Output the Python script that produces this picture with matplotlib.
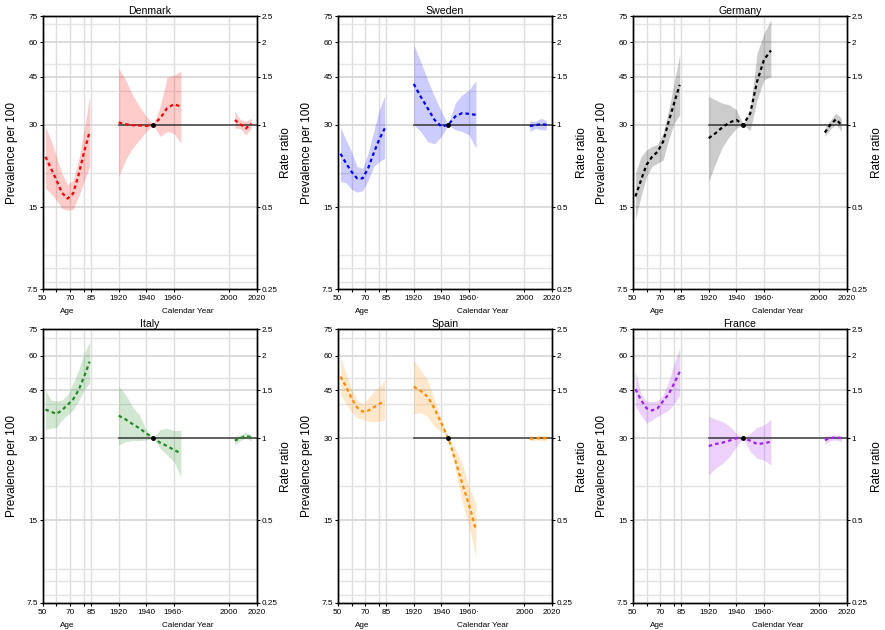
import numpy as np
import matplotlib
matplotlib.use("Agg")
import matplotlib.pyplot as plt
from matplotlib.ticker import NullLocator

plt.rcParams['font.family'] = ['Liberation Sans', 'DejaVu Sans']

# ---- data ----
ages = [52, 56, 60, 64, 68, 72, 76, 80, 84]
cohorts = [1920, 1925, 1930, 1935, 1940, 1945, 1950, 1955, 1960, 1965]
periods = [2004, 2008, 2012, 2016]
ref_cohort = 1945

# Denmark (age: prevalence per 100, cohort/period: rate ratio)
dk_age_est = [22.9, 20.8, 18.8, 16.9, 16.1, 16.8, 19.7, 23.9, 28.3]
dk_age_lo = [17.6, 16.8, 15.9, 14.8, 14.6, 14.7, 16.4, 18.6, 21.1]
dk_age_hi = [29.5, 26.4, 22.9, 19.9, 18.1, 18.8, 22.3, 28.7, 38.1]
dk_coh_est = [1.02, 1.005, 0.996, 0.994, 0.99, 1.0, 1.057, 1.15, 1.19, 1.165]
dk_coh_lo = [0.646, 0.744, 0.821, 0.88, 0.945, 1.0, 0.906, 0.945, 0.93, 0.856]
dk_coh_hi = [1.61, 1.46, 1.287, 1.166, 1.072, 1.0, 1.166, 1.49, 1.52, 1.57]
dk_per_est = [1.04, 1.005, 0.97, 1.01]
dk_per_lo = [0.97, 0.97, 0.918, 0.97]
dk_per_hi = [1.12, 1.047, 1.03, 1.056]

# Sweden
se_age_est = [23.5, 21.7, 20.2, 19.1, 19.1, 20.8, 23.6, 26.5, 29.1]
se_age_lo = [18.6, 18.4, 17.4, 17.0, 17.2, 18.8, 21.1, 22.0, 22.6]
se_age_hi = [29.3, 26.4, 23.9, 21.1, 20.8, 23.6, 28.3, 34.0, 38.3]
se_coh_est = [1.41, 1.268, 1.15, 1.042, 0.985, 1.0, 1.072, 1.103, 1.096, 1.087]
se_coh_lo = [1.0, 0.945, 0.868, 0.851, 0.906, 1.0, 0.958, 0.945, 0.918, 0.821]
se_coh_hi = [1.96, 1.704, 1.46, 1.268, 1.118, 1.0, 1.199, 1.287, 1.342, 1.452]
se_per_est = [0.99, 0.996, 1.005, 1.0]
se_per_lo = [0.945, 0.97, 0.958, 0.958]
se_per_hi = [1.036, 1.028, 1.056, 1.036]

# Germany
de_age_est = [16.4, 18.8, 21.4, 22.9, 23.9, 26.0, 30.8, 36.0, 42.0]
de_age_lo = [13.5, 16.4, 19.4, 21.1, 21.7, 22.3, 26.4, 30.4, 32.6]
de_age_hi = [19.9, 22.9, 24.3, 25.0, 25.4, 27.9, 34.0, 42.6, 54.0]
de_coh_est = [0.893, 0.932, 0.98, 1.019, 1.042, 1.0, 1.10, 1.44, 1.73, 1.87]
de_coh_lo = [0.621, 0.723, 0.832, 0.906, 0.972, 1.0, 0.952, 1.233, 1.46, 1.5]
de_coh_hi = [1.268, 1.233, 1.199, 1.182, 1.134, 1.0, 1.134, 1.83, 2.164, 2.42]
de_per_est = [0.937, 1.0, 1.047, 1.0]
de_per_lo = [0.906, 0.963, 1.008, 0.945]
de_per_hi = [0.97, 1.04, 1.102, 1.056]

# Italy
it_age_est = [38.2, 37.5, 36.8, 38.0, 39.7, 41.6, 45.0, 50.4, 57.2]
it_age_lo = [32.3, 32.6, 32.8, 35.0, 36.5, 38.0, 41.0, 45.0, 47.6]
it_age_hi = [45.0, 41.4, 41.0, 41.4, 43.2, 47.6, 53.3, 61.3, 67.6]
it_coh_est = [1.209, 1.172, 1.127, 1.087, 1.042, 1.0, 0.963, 0.936, 0.906, 0.88]
it_coh_lo = [0.944, 0.971, 0.98, 0.98, 0.985, 1.0, 0.918, 0.868, 0.82, 0.723]
it_coh_hi = [1.55, 1.44, 1.305, 1.216, 1.07, 1.0, 1.078, 1.087, 1.065, 1.07]
it_per_est = [0.98, 1.0, 1.019, 1.007]
it_per_lo = [0.944, 0.98, 1.0, 0.977]
it_per_hi = [1.013, 1.027, 1.053, 1.027]

# Spain
es_age_est = [50.4, 46.3, 42.0, 38.9, 37.5, 37.8, 38.9, 40.0, 41.0]
es_age_lo = [43.2, 40.1, 37.5, 35.5, 35.2, 34.6, 34.4, 34.6, 35.0]
es_age_hi = [59.6, 51.8, 45.6, 41.4, 40.0, 42.0, 44.4, 46.3, 49.0]
es_coh_est = [1.543, 1.49, 1.418, 1.286, 1.133, 1.0, 0.832, 0.684, 0.57, 0.461]
es_coh_lo = [1.226, 1.24, 1.199, 1.102, 1.056, 1.0, 0.776, 0.586, 0.474, 0.368]
es_coh_hi = [1.93, 1.776, 1.632, 1.38, 1.18, 1.0, 0.918, 0.809, 0.665, 0.577]
es_per_est = [0.995, 1.0, 1.0, 1.0]
es_per_lo = [0.975, 0.985, 0.98, 0.98]
es_per_hi = [1.02, 1.015, 1.03, 1.02]

# France
fr_age_est = [45.3, 41.4, 38.6, 37.9, 38.6, 41.0, 43.5, 47.6, 52.5]
fr_age_lo = [39.2, 36.5, 34.0, 35.0, 36.0, 37.0, 38.0, 40.1, 43.2]
fr_age_hi = [53.0, 43.6, 41.0, 40.8, 41.0, 43.2, 48.3, 56.3, 63.9]
fr_coh_est = [0.936, 0.952, 0.963, 0.98, 1.0, 1.0, 0.98, 0.952, 0.958, 0.971]
fr_coh_lo = [0.733, 0.776, 0.809, 0.856, 0.931, 1.0, 0.893, 0.844, 0.832, 0.798]
fr_coh_hi = [1.206, 1.172, 1.149, 1.108, 1.042, 1.0, 1.042, 1.095, 1.117, 1.172]
fr_per_est = [0.985, 1.0, 1.007, 1.0]
fr_per_lo = [0.95, 0.98, 0.985, 0.97]
fr_per_hi = [1.02, 1.02, 1.03, 1.02]

countries = ['Denmark', 'Sweden', 'Germany', 'Italy', 'Spain', 'France']
colors = ['red', 'blue', 'black', 'forestgreen', 'darkorange', '#A020F0']
age_fx = [(dk_age_est, dk_age_lo, dk_age_hi), (se_age_est, se_age_lo, se_age_hi),
          (de_age_est, de_age_lo, de_age_hi), (it_age_est, it_age_lo, it_age_hi),
          (es_age_est, es_age_lo, es_age_hi), (fr_age_est, fr_age_lo, fr_age_hi)]
coh_fx = [(dk_coh_est, dk_coh_lo, dk_coh_hi), (se_coh_est, se_coh_lo, se_coh_hi),
          (de_coh_est, de_coh_lo, de_coh_hi), (it_coh_est, it_coh_lo, it_coh_hi),
          (es_coh_est, es_coh_lo, es_coh_hi), (fr_coh_est, fr_coh_lo, fr_coh_hi)]
per_fx = [(dk_per_est, dk_per_lo, dk_per_hi), (se_per_est, se_per_lo, se_per_hi),
          (de_per_est, de_per_lo, de_per_hi), (it_per_est, it_per_lo, it_per_hi),
          (es_per_est, es_per_lo, es_per_hi), (fr_per_est, fr_per_lo, fr_per_hi)]

prev_ticks = [7.5, 15, 30, 45, 60, 75]
rr_ticks = [0.25, 0.5, 1, 1.5, 2, 2.5]
rr_labels = ['0.25', '0.5', '1', '1.5', '2', '2.5']
hgrid = [8, 9, 10, 20, 40, 50, 70]
hgrid_rr = [15, 30, 45, 60]


# age axis and calendar axis share one x scale with a gap between 85 and 1920
def age_x(a):
    return np.asarray(a, dtype=float) - 50


def year_x(y):
    return np.asarray(y, dtype=float) - 1865


xtick_pos = list(age_x([50, 60, 70, 80, 85])) + list(year_x([1920, 1940, 1960, 2000, 2020]))
xtick_lab = ['50', '', '70', '', '85', '1920', '1940', '1960\u00b7', '2000', '2020']
vgrid = list(age_x([60, 70, 80, 85])) + list(year_x([1920, 1940, 1960, 2000]))

fig = plt.figure(figsize=(8.85, 6.3), dpi=100)
lefts = [0.0482, 0.3816, 0.7149]
bottoms = [0.5408, 0.0433]
W, H = 0.2421, 0.4338
ls = (0, (1.6, 1.4))

for i, name in enumerate(countries):
    col = colors[i]
    ax = fig.add_axes([lefts[i % 3], bottoms[i // 3], W, H])
    ax.set_yscale('log')
    ax.set_xlim(0, 155)
    ax.set_ylim(7.5, 75)
    for g in vgrid:
        ax.axvline(g, color='#dedede', lw=1.0, zorder=0)
    for g in hgrid:
        ax.axhline(g, color='#e4e4e4', lw=1.0, zorder=0)
    for g in hgrid_rr:
        ax.axhline(g, color='#d6d6d6', lw=1.2, zorder=0)

    ax2 = ax.twinx()
    ax2.set_yscale('log')
    ax2.set_ylim(0.25, 2.5)

    # age effect
    est, lo, hi = age_fx[i]
    ax.fill_between(age_x(ages), lo, hi, color=col, alpha=0.2, lw=0)
    ax.plot(age_x(ages), est, color=col, lw=1.6, ls=ls)

    # reference line and point
    ax2.plot([year_x(1920), year_x(2020)], [1, 1], color='#333333', lw=1.2, alpha=0.85)

    # cohort effect
    est, lo, hi = coh_fx[i]
    ax2.fill_between(year_x(cohorts), lo, hi, color=col, alpha=0.2, lw=0)
    ax2.plot(year_x(cohorts), est, color=col, lw=1.6, ls=ls)

    # period effect
    est, lo, hi = per_fx[i]
    ax2.fill_between(year_x(periods), lo, hi, color=col, alpha=0.2, lw=0)
    ax2.plot(year_x(periods), est, color=col, lw=1.6, ls=ls)

    ax2.plot([year_x(ref_cohort)], [1], 'o', color='black', ms=2.5)

    ax.yaxis.set_minor_locator(NullLocator())
    ax2.yaxis.set_minor_locator(NullLocator())
    ax.set_yticks(prev_ticks)
    ax.set_yticklabels(['7.5', '15', '30', '45', '60', '75'])
    ax2.set_yticks(rr_ticks)
    ax2.set_yticklabels(rr_labels)
    ax.set_xticks(xtick_pos)
    ax.set_xticklabels(xtick_lab)
    ax.tick_params(axis='both', labelsize=5.9, length=2.4, width=0.8, pad=1, color='black')
    ax.tick_params(axis='x', pad=2)
    ax2.tick_params(axis='y', labelsize=5.9, length=2.4, width=0.8, pad=1)
    for sp in ax.spines.values():
        sp.set_linewidth(1.0)
    for sp in ax2.spines.values():
        sp.set_linewidth(1.0)

    ax.set_title(name, fontsize=7.6, pad=1.2)
    ax.text(-0.145, 0.5, 'Prevalence per 100', rotation=90, ha='center', va='center',
            fontsize=8.5, transform=ax.transAxes)
    ax.text(1.138, 0.5, 'Rate ratio', rotation=90, ha='center', va='center',
            fontsize=8.5, transform=ax.transAxes)
    ax.text(age_x(67.5), -0.082, 'Age', ha='center', va='center', fontsize=5.9,
            transform=ax.get_xaxis_transform())
    ax.text(year_x(1970), -0.082, 'Calendar Year', ha='center', va='center', fontsize=5.9,
            transform=ax.get_xaxis_transform())

fig.savefig('out.png', dpi=100)
